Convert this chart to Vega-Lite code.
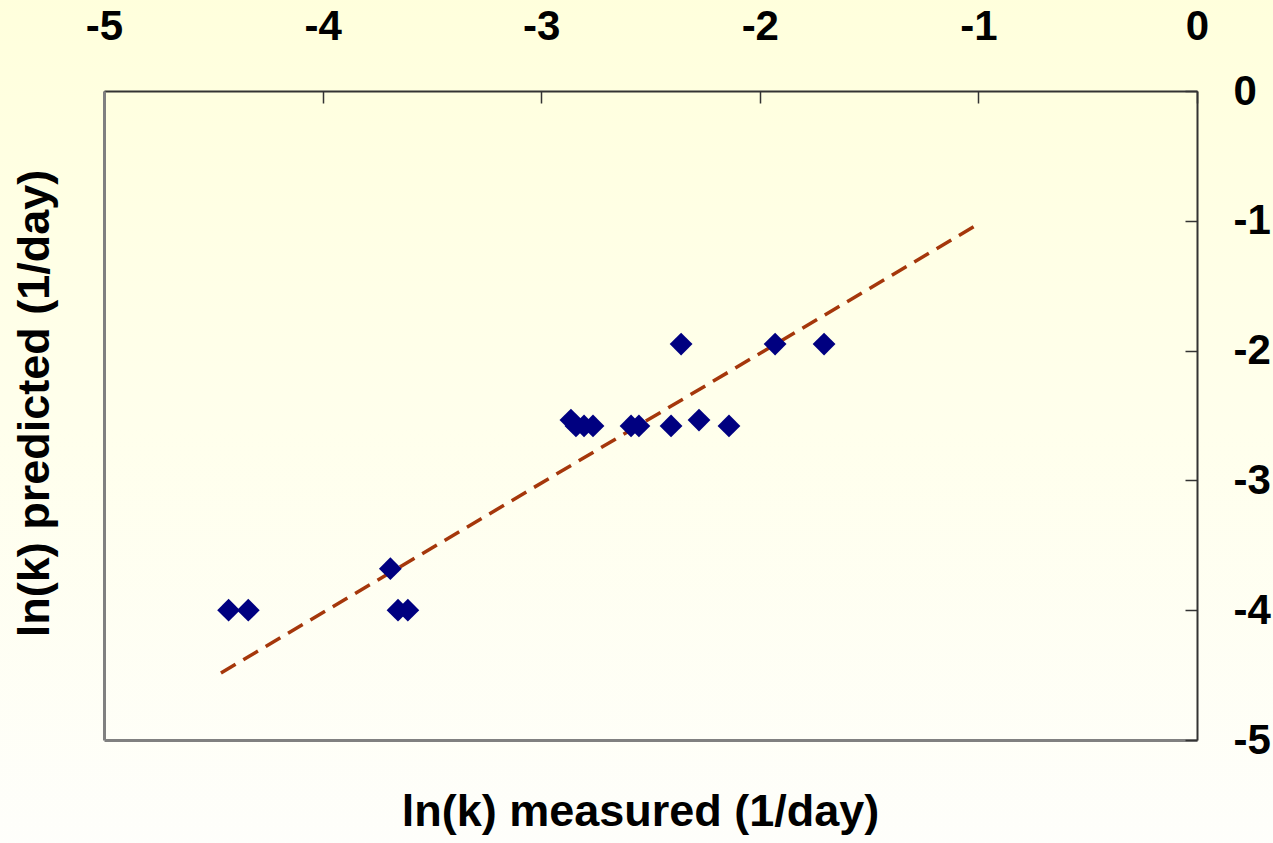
{
  "$schema": "https://vega.github.io/schema/vega-lite/v6.json",
  "width": 1093,
  "height": 649,
  "autosize": {"type": "none"},
  "padding": {"left": 104, "top": 91, "right": 76, "bottom": 103},
  "background": "#FFFFEC",
  "config": {"view": {"stroke": null}, "font": "Liberation Sans"},
  "datasets": {
    "points": [
      {"measured": -4.43, "predicted": -4.0},
      {"measured": -4.34, "predicted": -4.0},
      {"measured": -3.69, "predicted": -3.68},
      {"measured": -3.655, "predicted": -4.0},
      {"measured": -3.61, "predicted": -4.0},
      {"measured": -2.864, "predicted": -2.535},
      {"measured": -2.841, "predicted": -2.58},
      {"measured": -2.804, "predicted": -2.58},
      {"measured": -2.763, "predicted": -2.58},
      {"measured": -2.589, "predicted": -2.58},
      {"measured": -2.553, "predicted": -2.58},
      {"measured": -2.406, "predicted": -2.58},
      {"measured": -2.36, "predicted": -1.95},
      {"measured": -2.278, "predicted": -2.535},
      {"measured": -2.141, "predicted": -2.58},
      {"measured": -1.93, "predicted": -1.95},
      {"measured": -1.706, "predicted": -1.95}
    ],
    "fit": [
      {"measured": -4.465, "predicted": -4.484},
      {"measured": -0.993, "predicted": -1.017}
    ]
  },
  "layer": [
    {
      "data": {"values": [{"panel": "background"}]},
      "mark": {
        "type": "rect",
        "clip": false,
        "fill": {
          "gradient": "linear",
          "x1": 0, "y1": 0, "x2": 0, "y2": 1,
          "stops": [
            {"offset": 0, "color": "#FFFFDC"},
            {"offset": 0.5, "color": "#FFFFEC"},
            {"offset": 1, "color": "#FEFEFB"}
          ]
        }
      },
      "encoding": {
        "x": {"datum": -5.5, "type": "quantitative", "scale": {"domain": [-5, 0], "nice": false, "zero": false}, "axis": null},
        "x2": {"datum": 0.4},
        "y": {"datum": 0.75, "type": "quantitative", "scale": {"domain": [-5, 0], "nice": false, "zero": false}, "axis": null},
        "y2": {"datum": -5.85}
      }
    },
    {
      "data": {"name": "fit"},
      "mark": {"type": "line", "color": "#A5370B", "strokeWidth": 3.5, "strokeDash": [17, 9]},
      "encoding": {
        "x": {
          "field": "measured", "type": "quantitative",
          "axis": {
            "orient": "bottom", "title": "ln(k) measured (1/day)",
            "labels": false, "ticks": false, "grid": false,
            "domainColor": "#808080", "domainWidth": 3,
            "titleFontSize": 45, "titleFontWeight": "bold", "titleColor": "#000000",
            "titleFont": "Liberation Sans", "titlePadding": 49, "titleX": 536, "zindex": 1
          }
        },
        "y": {
          "field": "predicted", "type": "quantitative",
          "axis": {
            "orient": "left", "title": "ln(k) predicted (1/day)",
            "labels": false, "ticks": false, "grid": false,
            "domainColor": "#808080", "domainWidth": 3,
            "titleFontSize": 45, "titleFontWeight": "bold", "titleColor": "#000000",
            "titleFont": "Liberation Sans", "titlePadding": 47, "titleY": 312, "zindex": 1
          }
        }
      }
    },
    {
      "data": {"name": "points"},
      "mark": {"type": "point", "shape": "diamond", "filled": true, "size": 520, "color": "#000080", "opacity": 1},
      "encoding": {
        "x": {
          "field": "measured", "type": "quantitative",
          "axis": {
            "orient": "top", "title": null, "values": [-5, -4, -3, -2, -1, 0],
            "labelExpr": "datum.value < 0 ? '-' + abs(datum.value) : '' + datum.value",
            "labelFontSize": 42, "labelFontWeight": "bold", "labelColor": "#000000",
            "labelFont": "Liberation Sans", "labelFlush": false, "labelOverlap": false,
            "labelPadding": 55, "tickSize": -12, "tickColor": "#333333", "tickWidth": 1.5,
            "domainColor": "#333333", "domainWidth": 2, "grid": false, "zindex": 1
          }
        },
        "y": {
          "field": "predicted", "type": "quantitative",
          "axis": {
            "orient": "right", "title": null, "values": [-5, -4, -3, -2, -1, 0],
            "labelExpr": "datum.value < 0 ? '-' + abs(datum.value) : '' + datum.value",
            "labelFontSize": 42, "labelFontWeight": "bold", "labelColor": "#000000",
            "labelFont": "Liberation Sans", "labelFlush": false, "labelOverlap": false,
            "labelAlign": "left", "labelBaseline": "middle",
            "labelPadding": 48, "tickSize": -12, "tickColor": "#333333", "tickWidth": 1.5,
            "domainColor": "#333333", "domainWidth": 2, "grid": false, "zindex": 1
          }
        }
      }
    }
  ],
  "resolve": {"axis": {"x": "independent", "y": "independent"}}
}
